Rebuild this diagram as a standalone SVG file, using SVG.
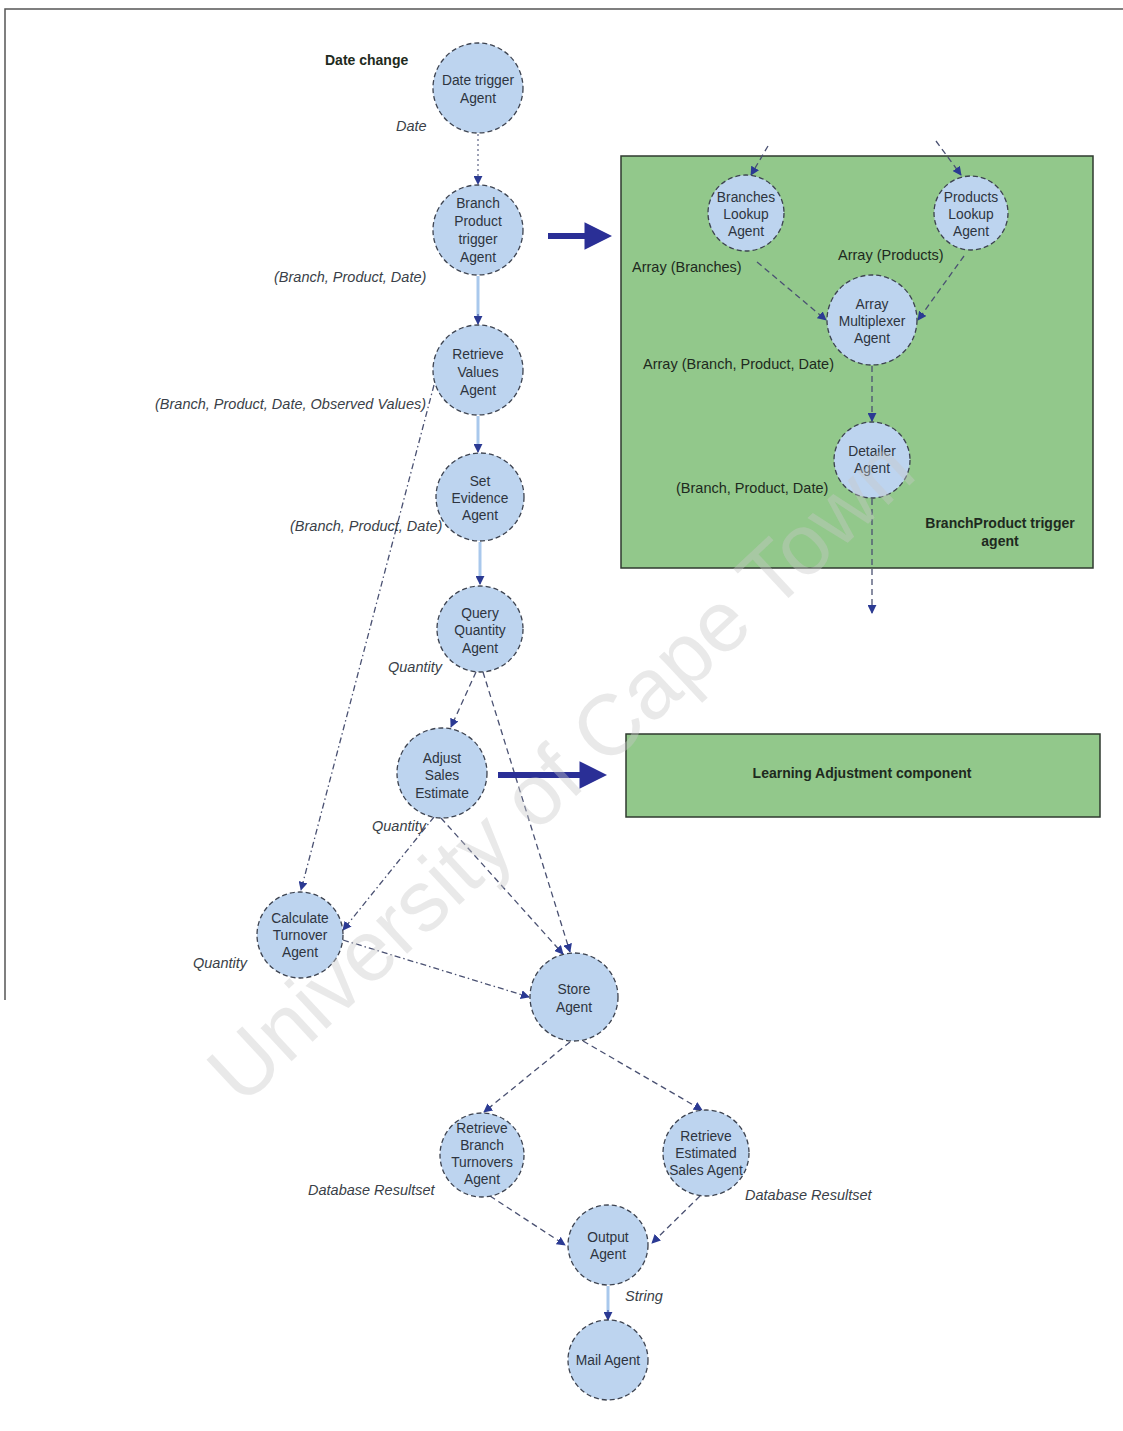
<svg xmlns="http://www.w3.org/2000/svg" width="1123" height="1431" viewBox="0 0 1123 1431">
  <defs>
    <marker id="ah" viewBox="0 0 10 10" refX="9" refY="5" markerWidth="9" markerHeight="9" orient="auto" markerUnits="userSpaceOnUse">
      <path d="M0,0 L10,5 L0,10 z" fill="#2b3a93"/>
    </marker>
    <marker id="bigah" viewBox="0 0 10 10" refX="2" refY="5" markerWidth="4.6" markerHeight="4.6" orient="auto">
      <path d="M0,0 L10,5 L0,10 z" fill="#2a2f96"/>
    </marker>
  </defs>
  <style>
    .agent { fill: #bdd4ef; stroke: #3d4350; stroke-width: 1.3; stroke-dasharray: 5 3; }
    .lbl { font-family: "Liberation Sans", Arial, sans-serif; font-size: 13.8px; fill: #2e3440; text-anchor: middle; }
    .flow { font-family: "Liberation Sans", Arial, sans-serif; font-size: 14.5px; fill: #3a3f48; font-style: italic; }
    .boxlbl { font-family: "Liberation Sans", Arial, sans-serif; font-size: 14.5px; fill: #1e2a20; }
    .bold { font-weight: bold; font-size: 14px; }
    .dash { fill: none; stroke: #4a5172; stroke-width: 1.3; stroke-dasharray: 6 4; marker-end: url(#ah); }
    .dashdot { fill: none; stroke: #4a5172; stroke-width: 1.3; stroke-dasharray: 6 3 1.5 3; marker-end: url(#ah); }
    .dotted { fill: none; stroke: #6a7090; stroke-width: 1.3; stroke-dasharray: 2 3; marker-end: url(#ah); }
    .solid { fill: none; stroke: #a9c8ec; stroke-width: 3; }
    .pipe { fill: none; stroke: #2a2f96; stroke-width: 6; marker-end: url(#bigah); }
    .panel { fill: #92c88b; stroke: #2f3a2f; stroke-width: 1.5; }
  </style>

  <rect x="0" y="0" width="1123" height="1431" fill="#ffffff"/>

  <!-- page frame -->
  <g id="frame" stroke="#555" stroke-width="1.5" fill="none">
    <path d="M5,1000 L5,9 L1123,9"/>
  </g>

  <!-- panels -->
  <g id="panel-trigger">
    <rect class="panel" x="621" y="156" width="472" height="412"/>
    <text class="boxlbl bold" x="1000" y="528" text-anchor="middle">BranchProduct trigger</text>
    <text class="boxlbl bold" x="1000" y="546" text-anchor="middle">agent</text>
  </g>
  <g id="panel-learning">
    <rect class="panel" x="626" y="734" width="474" height="83"/>
    <text class="boxlbl bold" x="862" y="778" text-anchor="middle">Learning Adjustment component</text>
  </g>

  <!-- connectors -->
  <g id="connectors">
    <path class="dotted" d="M478,134 L478,184"/>
    <path class="solid" d="M478,276 L478,318"/>
    <path d="M478,314 L478,324" stroke="#2b3a93" stroke-width="1" marker-end="url(#ah)"/>
    <path class="solid" d="M478,416 L478,446"/>
    <path d="M478,444 L478,452" stroke="#2b3a93" stroke-width="1" marker-end="url(#ah)"/>
    <path class="solid" d="M480,542 L480,578"/>
    <path d="M480,576 L480,584" stroke="#2b3a93" stroke-width="1" marker-end="url(#ah)"/>
    <path class="dashdot" d="M434,385 L301,890"/>
    <path class="dash" d="M476,672 L451,727"/>
    <path class="dash" d="M483,672 L570,952"/>
    <path class="dashdot" d="M434,817 L343,930"/>
    <path class="dash" d="M441,818 L563,954"/>
    <path class="dashdot" d="M343,940 L529,997"/>
    <path class="dash" d="M570,1042 L484,1112"/>
    <path class="dash" d="M583,1041 L702,1110"/>
    <path class="dash" d="M490,1196 L565,1245"/>
    <path class="dash" d="M700,1196 L652,1243"/>
    <path class="solid" d="M608,1286 L608,1312"/>
    <path d="M608,1310 L608,1320" stroke="#2b3a93" stroke-width="1" marker-end="url(#ah)"/>
    <!-- inside the trigger panel -->
    <path class="dash" d="M768,146 L751,175"/>
    <path class="dash" d="M936,141 L961,175"/>
    <path class="dash" d="M757,262 L826,320"/>
    <path class="dash" d="M964,256 L918,320"/>
    <path class="dash" d="M872,366 L872,421"/>
    <path class="dash" d="M872,499 L872,613"/>
    <!-- component expansion arrows -->
    <path class="pipe" d="M548,236 L590,236"/>
    <path class="pipe" d="M498,775 L585,775"/>
  </g>

  <!-- flow labels -->
  <g id="flow-labels">
    <text class="boxlbl bold" x="325" y="65" fill="#333">Date change</text>
    <text class="flow" x="396" y="131">Date</text>
    <text class="flow" x="274" y="282">(Branch, Product, Date)</text>
    <text class="flow" x="155" y="409">(Branch, Product, Date, Observed Values)</text>
    <text class="flow" x="290" y="531">(Branch, Product, Date)</text>
    <text class="flow" x="388" y="672">Quantity</text>
    <text class="flow" x="372" y="831">Quantity</text>
    <text class="flow" x="193" y="968">Quantity</text>
    <text class="flow" x="308" y="1195">Database Resultset</text>
    <text class="flow" x="745" y="1200">Database Resultset</text>
    <text class="flow" x="625" y="1301">String</text>
    <text class="boxlbl" x="632" y="272">Array (Branches)</text>
    <text class="boxlbl" x="838" y="260">Array (Products)</text>
    <text class="boxlbl" x="643" y="369">Array (Branch, Product, Date)</text>
    <text class="boxlbl" x="676" y="493">(Branch, Product, Date)</text>
  </g>

  <!-- agents -->
  <g id="date-trigger">
    <circle class="agent" cx="478" cy="88" r="45"/>
    <text class="lbl" x="478" y="85">Date trigger</text>
    <text class="lbl" x="478" y="103">Agent</text>
  </g>
  <g id="branch-product-trigger">
    <circle class="agent" cx="478" cy="230" r="45"/>
    <text class="lbl" x="478" y="208">Branch</text>
    <text class="lbl" x="478" y="226">Product</text>
    <text class="lbl" x="478" y="244">trigger</text>
    <text class="lbl" x="478" y="262">Agent</text>
  </g>
  <g id="retrieve-values">
    <circle class="agent" cx="478" cy="370" r="45"/>
    <text class="lbl" x="478" y="359">Retrieve</text>
    <text class="lbl" x="478" y="377">Values</text>
    <text class="lbl" x="478" y="395">Agent</text>
  </g>
  <g id="set-evidence">
    <circle class="agent" cx="480" cy="497" r="44"/>
    <text class="lbl" x="480" y="486">Set</text>
    <text class="lbl" x="480" y="503">Evidence</text>
    <text class="lbl" x="480" y="520">Agent</text>
  </g>
  <g id="query-quantity">
    <circle class="agent" cx="480" cy="629" r="43"/>
    <text class="lbl" x="480" y="618">Query</text>
    <text class="lbl" x="480" y="635">Quantity</text>
    <text class="lbl" x="480" y="653">Agent</text>
  </g>
  <g id="adjust-sales">
    <circle class="agent" cx="442" cy="773" r="45"/>
    <text class="lbl" x="442" y="763">Adjust</text>
    <text class="lbl" x="442" y="780">Sales</text>
    <text class="lbl" x="442" y="798">Estimate</text>
  </g>
  <g id="calculate-turnover">
    <circle class="agent" cx="300" cy="935" r="43"/>
    <text class="lbl" x="300" y="923">Calculate</text>
    <text class="lbl" x="300" y="940">Turnover</text>
    <text class="lbl" x="300" y="957">Agent</text>
  </g>
  <g id="store">
    <circle class="agent" cx="574" cy="997" r="44"/>
    <text class="lbl" x="574" y="994">Store</text>
    <text class="lbl" x="574" y="1012">Agent</text>
  </g>
  <g id="retrieve-branch-turnovers">
    <circle class="agent" cx="482" cy="1155" r="42"/>
    <text class="lbl" x="482" y="1133">Retrieve</text>
    <text class="lbl" x="482" y="1150">Branch</text>
    <text class="lbl" x="482" y="1167">Turnovers</text>
    <text class="lbl" x="482" y="1184">Agent</text>
  </g>
  <g id="retrieve-estimated-sales">
    <circle class="agent" cx="706" cy="1153" r="43"/>
    <text class="lbl" x="706" y="1141">Retrieve</text>
    <text class="lbl" x="706" y="1158">Estimated</text>
    <text class="lbl" x="706" y="1175">Sales Agent</text>
  </g>
  <g id="output">
    <circle class="agent" cx="608" cy="1245" r="40"/>
    <text class="lbl" x="608" y="1242">Output</text>
    <text class="lbl" x="608" y="1259">Agent</text>
  </g>
  <g id="mail">
    <circle class="agent" cx="608" cy="1360" r="40"/>
    <text class="lbl" x="608" y="1365">Mail Agent</text>
  </g>
  <g id="branches-lookup">
    <circle class="agent" cx="746" cy="213" r="38"/>
    <text class="lbl" x="746" y="202">Branches</text>
    <text class="lbl" x="746" y="219">Lookup</text>
    <text class="lbl" x="746" y="236">Agent</text>
  </g>
  <g id="products-lookup">
    <circle class="agent" cx="971" cy="213" r="37"/>
    <text class="lbl" x="971" y="202">Products</text>
    <text class="lbl" x="971" y="219">Lookup</text>
    <text class="lbl" x="971" y="236">Agent</text>
  </g>
  <g id="array-multiplexer">
    <circle class="agent" cx="872" cy="320" r="45"/>
    <text class="lbl" x="872" y="309">Array</text>
    <text class="lbl" x="872" y="326">Multiplexer</text>
    <text class="lbl" x="872" y="343">Agent</text>
  </g>
  <g id="detailer">
    <circle class="agent" cx="872" cy="460" r="38"/>
    <text class="lbl" x="872" y="456">Detailer</text>
    <text class="lbl" x="872" y="473">Agent</text>
  </g>

  <!-- watermark across the page -->
  <text x="560" y="800" transform="rotate(-43 560 770)" font-family="Liberation Sans, Arial, sans-serif" font-size="86" fill="#c8c8c8" fill-opacity="0.4" text-anchor="middle">University of Cape Town</text>
</svg>
